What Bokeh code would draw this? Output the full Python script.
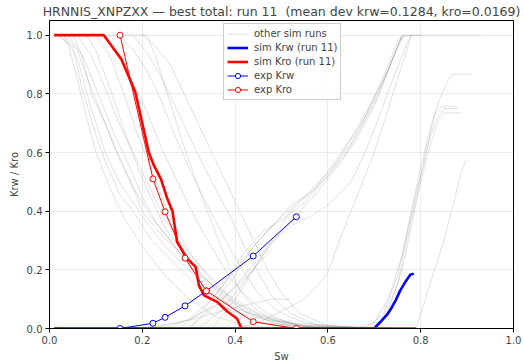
from bokeh.plotting import figure
from bokeh.models import Legend, LegendItem, Range1d, FixedTicker, PrintfTickFormatter
from bokeh.embed import file_html
from bokeh.resources import INLINE

TITLE = "HRNNIS_XNPZXX \u2014 best total: run 11 \u00a0(mean dev krw=0.1284, kro=0.0169)"

# experimental points
exp_sw = [0.152, 0.223, 0.249, 0.292, 0.338, 0.439, 0.532]
exp_krw = [0.0, 0.018, 0.038, 0.077, 0.128, 0.247, 0.381]
exp_kro = [1.0, 0.51, 0.398, 0.24, 0.128, 0.023, 0.0]

# best run (run 11)
sim_krw_sw = [0.01, 0.70, 0.703, 0.715, 0.728, 0.737, 0.746, 0.756, 0.767, 0.778, 0.785]
sim_krw = [0.0, 0.0, 0.006, 0.025, 0.048, 0.07, 0.096, 0.13, 0.159, 0.184, 0.187]
sim_kro_sw = [0.01, 0.117, 0.155, 0.185, 0.20, 0.214, 0.225, 0.24, 0.254, 0.265, 0.275,
              0.297, 0.315, 0.322, 0.333, 0.361, 0.383, 0.404, 0.412, 0.415, 0.79]
sim_kro = [1.0, 1.0, 0.918, 0.805, 0.70, 0.60, 0.556, 0.51, 0.442, 0.40, 0.295,
           0.238, 0.21, 0.147, 0.113, 0.091, 0.058, 0.034, 0.006, 0.0, 0.0]

# other sim runs: Kro curves
other_kro = [
    ([0.02, 0.04, 0.06, 0.08, 0.10, 0.13, 0.16, 0.20, 0.25, 0.30, 0.36, 0.42, 0.50],
     [1.0, 0.97, 0.85, 0.72, 0.60, 0.48, 0.38, 0.28, 0.18, 0.10, 0.04, 0.01, 0.0]),
    ([0.02, 0.05, 0.07, 0.10, 0.12, 0.15, 0.18, 0.22, 0.27, 0.32, 0.38, 0.45, 0.55],
     [1.0, 0.96, 0.82, 0.66, 0.57, 0.46, 0.40, 0.30, 0.22, 0.14, 0.07, 0.02, 0.0]),
    ([0.03, 0.06, 0.08, 0.11, 0.14, 0.17, 0.20, 0.24, 0.28, 0.33, 0.38, 0.44, 0.52, 0.62],
     [1.0, 0.95, 0.86, 0.74, 0.62, 0.52, 0.40, 0.32, 0.26, 0.18, 0.10, 0.04, 0.01, 0.0]),
    ([0.04, 0.07, 0.09, 0.12, 0.15, 0.18, 0.22, 0.26, 0.30, 0.35, 0.40, 0.46, 0.60],
     [1.0, 0.93, 0.80, 0.70, 0.58, 0.48, 0.38, 0.30, 0.22, 0.14, 0.06, 0.02, 0.0]),
    ([0.05, 0.08, 0.11, 0.14, 0.17, 0.20, 0.23, 0.27, 0.31, 0.35, 0.40, 0.45, 0.52, 0.70],
     [1.0, 0.90, 0.78, 0.66, 0.56, 0.45, 0.36, 0.28, 0.20, 0.15, 0.10, 0.05, 0.02, 0.0]),
    ([0.08, 0.10, 0.13, 0.16, 0.19, 0.22, 0.25, 0.29, 0.33, 0.37, 0.42, 0.48, 0.56],
     [1.0, 0.95, 0.82, 0.68, 0.55, 0.44, 0.34, 0.26, 0.18, 0.12, 0.06, 0.02, 0.0]),
    ([0.10, 0.13, 0.16, 0.19, 0.22, 0.25, 0.28, 0.31, 0.35, 0.39, 0.44, 0.50, 0.60],
     [1.0, 0.93, 0.80, 0.66, 0.54, 0.42, 0.32, 0.24, 0.16, 0.10, 0.05, 0.02, 0.0]),
    ([0.12, 0.15, 0.18, 0.21, 0.24, 0.27, 0.30, 0.33, 0.36, 0.39, 0.43, 0.47, 0.53, 0.60],
     [1.0, 0.92, 0.84, 0.74, 0.62, 0.52, 0.42, 0.33, 0.25, 0.17, 0.10, 0.05, 0.01, 0.0]),
    ([0.01, 0.21, 0.23, 0.25, 0.27, 0.29, 0.31, 0.33, 0.35, 0.37, 0.39, 0.41, 0.44, 0.48, 0.55, 0.65],
     [1.0, 1.0, 0.92, 0.82, 0.72, 0.62, 0.53, 0.44, 0.36, 0.28, 0.20, 0.13, 0.07, 0.03, 0.01, 0.0]),
    ([0.15, 0.18, 0.21, 0.24, 0.27, 0.30, 0.33, 0.36, 0.39, 0.42, 0.45, 0.49, 0.55, 0.62],
     [1.0, 0.95, 0.88, 0.78, 0.66, 0.55, 0.45, 0.36, 0.27, 0.19, 0.12, 0.06, 0.02, 0.0]),
    ([0.18, 0.21, 0.24, 0.27, 0.30, 0.33, 0.36, 0.39, 0.42, 0.45, 0.48, 0.52, 0.58, 0.70],
     [1.0, 0.94, 0.86, 0.76, 0.66, 0.56, 0.47, 0.38, 0.28, 0.19, 0.11, 0.05, 0.01, 0.0]),
    ([0.03, 0.06, 0.09, 0.12, 0.15, 0.18, 0.21, 0.25, 0.30, 0.35, 0.40, 0.47, 0.55, 0.78],
     [1.0, 0.92, 0.75, 0.60, 0.50, 0.43, 0.36, 0.28, 0.20, 0.12, 0.07, 0.03, 0.01, 0.0]),
    ([0.06, 0.09, 0.12, 0.15, 0.18, 0.21, 0.24, 0.27, 0.31, 0.35, 0.40, 0.46, 0.54, 0.75],
     [1.0, 0.93, 0.82, 0.70, 0.60, 0.50, 0.40, 0.32, 0.24, 0.17, 0.09, 0.04, 0.01, 0.0]),
    ([0.20, 0.23, 0.26, 0.29, 0.32, 0.35, 0.38, 0.41, 0.44, 0.47, 0.50, 0.54, 0.60, 0.68],
     [1.0, 0.96, 0.90, 0.80, 0.70, 0.60, 0.50, 0.40, 0.30, 0.20, 0.12, 0.05, 0.01, 0.0]),
]

# other sim runs: Krw curves
other_krw = [
    ([0.25, 0.30, 0.35, 0.40, 0.45, 0.50, 0.55, 0.60, 0.65, 0.70, 0.73, 0.76, 0.93],
     [0.0, 0.03, 0.10, 0.20, 0.30, 0.38, 0.45, 0.53, 0.63, 0.78, 0.88, 1.0, 1.0]),
    ([0.28, 0.33, 0.38, 0.42, 0.46, 0.50, 0.55, 0.60, 0.64, 0.68, 0.72, 0.75, 0.77, 0.80],
     [0.0, 0.06, 0.16, 0.26, 0.33, 0.37, 0.43, 0.52, 0.62, 0.72, 0.86, 0.98, 1.0, 1.0]),
    ([0.30, 0.35, 0.40, 0.44, 0.48, 0.52, 0.57, 0.61, 0.65, 0.69, 0.72, 0.75, 0.765],
     [0.0, 0.08, 0.18, 0.28, 0.35, 0.42, 0.47, 0.56, 0.65, 0.76, 0.85, 0.96, 1.0]),
    ([0.32, 0.37, 0.42, 0.46, 0.50, 0.54, 0.58, 0.62, 0.66, 0.70, 0.74, 0.76],
     [0.0, 0.06, 0.16, 0.25, 0.33, 0.40, 0.47, 0.55, 0.64, 0.76, 0.92, 1.0]),
    ([0.35, 0.40, 0.44, 0.48, 0.52, 0.56, 0.60, 0.64, 0.67, 0.71, 0.74, 0.76],
     [0.0, 0.10, 0.20, 0.30, 0.40, 0.46, 0.52, 0.60, 0.68, 0.80, 0.92, 1.0]),
    ([0.30, 0.36, 0.42, 0.47, 0.52, 0.56, 0.60, 0.65, 0.68, 0.71, 0.74, 0.77, 0.78],
     [0.0, 0.08, 0.18, 0.28, 0.35, 0.38, 0.42, 0.50, 0.60, 0.72, 0.85, 0.97, 1.0]),
    ([0.66, 0.70, 0.73, 0.76, 0.78, 0.80, 0.82, 0.84, 0.86, 0.87, 0.91],
     [0.0, 0.02, 0.10, 0.25, 0.40, 0.55, 0.68, 0.78, 0.85, 0.867, 0.867]),
    ([0.68, 0.72, 0.75, 0.77, 0.79, 0.81, 0.82, 0.83, 0.845, 0.88],
     [0.0, 0.05, 0.18, 0.32, 0.46, 0.58, 0.66, 0.73, 0.758, 0.758]),
    ([0.70, 0.73, 0.76, 0.78, 0.80, 0.82, 0.835, 0.85, 0.886],
     [0.0, 0.06, 0.20, 0.35, 0.50, 0.62, 0.70, 0.735, 0.735]),
    ([0.79, 0.81, 0.83, 0.85, 0.87, 0.885, 0.897],
     [0.0, 0.10, 0.20, 0.30, 0.42, 0.52, 0.573]),
    ([0.69, 0.72, 0.75, 0.77, 0.79, 0.81, 0.83, 0.85, 0.88],
     [0.0, 0.04, 0.15, 0.30, 0.44, 0.60, 0.70, 0.75, 0.75]),
    ([0.40, 0.45, 0.50, 0.55, 0.58, 0.60, 0.62, 0.64, 0.66, 0.70, 0.74, 0.78],
     [0.0, 0.02, 0.06, 0.10, 0.15, 0.19, 0.28, 0.36, 0.44, 0.60, 0.80, 1.0]),
    ([0.20, 0.28, 0.35, 0.42, 0.48, 0.52],
     [0.0, 0.02, 0.05, 0.08, 0.10, 0.10]),
    ([0.22, 0.30, 0.36, 0.40, 0.44, 0.46, 0.48],
     [0.0, 0.03, 0.08, 0.14, 0.20, 0.24, 0.27]),
]

FONT = "DejaVu Sans"

p = figure(width=524, height=364, output_backend="svg", toolbar_location=None,
           x_range=Range1d(0, 1), y_range=Range1d(0, 1.05),
           min_border_left=49, min_border_right=11, min_border_top=0, min_border_bottom=34)

p.title.text = TITLE
p.title.align = "center"
p.title.text_font = FONT
p.title.text_font_size = "12.5px"
p.title.text_font_style = "normal"
p.title.offset = 0
p.title.standoff = 3

p.outline_line_color = "black"
p.outline_line_width = 1
p.outline_line_alpha = 1

for ax in (p.xaxis[0], p.yaxis[0]):
    ax.ticker = FixedTicker(ticks=[0.0, 0.2, 0.4, 0.6, 0.8, 1.0])
    ax.formatter = PrintfTickFormatter(format="%.1f")
    ax.major_label_text_font = FONT
    ax.major_label_text_font_size = "10px"
    ax.axis_label_text_font = FONT
    ax.axis_label_text_font_size = "10px"
    ax.axis_label_text_font_style = "normal"
    ax.minor_tick_line_color = None
    ax.major_tick_out = 4
    ax.major_tick_in = 0
    ax.axis_line_color = "black"
    ax.major_label_standoff = 3
    ax.axis_label_standoff = 4

p.xaxis.axis_label = "Sw"
p.yaxis.axis_label = "Krw / Kro"

p.grid.grid_line_color = "#b0b0b0"
p.grid.grid_line_alpha = 0.3
p.grid.grid_line_width = 0.8

gray_r = None
for xs, ys in other_kro + other_krw:
    r = p.line(xs, ys, line_color="gray", line_alpha=0.3, line_width=0.8)
    if gray_r is None:
        gray_r = r

r_skrw = p.line(sim_krw_sw, sim_krw, line_color="blue", line_width=2.6)
r_skro = p.line(sim_kro_sw, sim_kro, line_color="red", line_width=2.6)
r_ekrw_l = p.line(exp_sw, exp_krw, line_color="blue", line_width=1)
r_ekrw_m = p.scatter(exp_sw, exp_krw, marker="circle", size=6, line_color="blue",
                     fill_color="white", line_width=1)
r_ekro_l = p.line(exp_sw, exp_kro, line_color="red", line_width=1)
r_ekro_m = p.scatter(exp_sw, exp_kro, marker="circle", size=6, line_color="red",
                     fill_color="white", line_width=1)

legend = Legend(items=[
    LegendItem(label="other sim runs", renderers=[gray_r]),
    LegendItem(label="sim Krw (run 11)", renderers=[r_skrw]),
    LegendItem(label="sim Kro (run 11)", renderers=[r_skro]),
    LegendItem(label="exp Krw", renderers=[r_ekrw_l, r_ekrw_m]),
    LegendItem(label="exp Kro", renderers=[r_ekro_l, r_ekro_m]),
], location=(174, 228))
legend.label_text_font = FONT
legend.label_text_font_size = "10px"
legend.label_height = 13
legend.glyph_height = 13
legend.glyph_width = 21
legend.spacing = 1
legend.padding = 3
legend.margin = 0
legend.label_standoff = 6
legend.border_line_color = "#cccccc"
legend.border_line_alpha = 1
legend.background_fill_alpha = 0.8
p.add_layout(legend, "center")

open("out.html", "w").write(file_html(p, INLINE))
